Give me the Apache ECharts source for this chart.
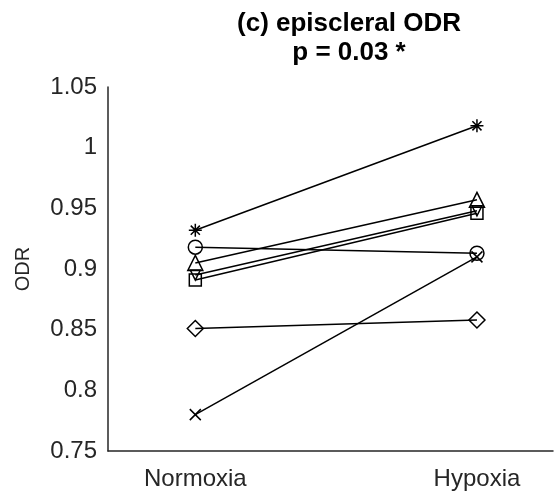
<!DOCTYPE html>
<html><head><meta charset="utf-8">
<script src="https://cdn.jsdelivr.net/npm/echarts@6/dist/echarts.min.js"></script>
<style>html,body{margin:0;padding:0;background:#fff}#c{width:554px;height:495px}</style>
</head><body><div id="c"></div>
<script>
const categories = ['Normoxia', 'Hypoxia'];
const yTicks = [0.75, 0.8, 0.85, 0.9, 0.95, 1, 1.05];
const subjAsterisk = [0.932, 1.018];
const subjCircle = [0.918, 0.913];
const subjTriangle = [0.905, 0.957];
const subjSquare = [0.891, 0.946];
const subjDownTri = [0.895, 0.948];
const subjDiamond = [0.851, 0.858];
const subjCross = [0.780, 0.910];

const sym = {
  asterisk: 'path://M5,0L5,10M0,5L10,5M1.5,1.5L8.5,8.5M8.5,1.5L1.5,8.5',
  cross: 'path://M0,0L10,10M10,0L0,10',
  circle: 'circle', rect: 'rect', triangle: 'triangle', diamond: 'diamond',
  downTri: 'path://M0,0L10,0L5,9Z'
};
const seriesDefs = [
  [subjAsterisk, sym.asterisk, 13],
  [subjCircle, sym.circle, 14],
  [subjTriangle, sym.triangle, 15],
  [subjSquare, sym.rect, 12],
  [subjDownTri, sym.downTri, 10],
  [subjDiamond, sym.diamond, 16],
  [subjCross, sym.cross, 11]
];
const series = seriesDefs.map(([vals, s, size]) => ({
  type: 'line',
  data: vals.map((v, i) => [i + 1, v]),
  symbol: s, symbolSize: size, showAllSymbol: true,
  lineStyle: {color: '#000', width: 1.5},
  itemStyle: {color: 'rgba(0,0,0,0)', borderColor: '#000', borderWidth: 1.5},
  emphasis: {disabled: true},
  z: 3
}));

const font = 'Liberation Sans, Arial';
const chart = echarts.init(document.getElementById('c'));
chart.setOption({
  animation: false,
  title: {
    text: '(c) episcleral ODR\np = 0.03 *',
    left: 344, top: 4, textAlign: 'center',
    textStyle: {fontFamily: font, fontWeight: 'bold', fontSize: 26, color: '#000', lineHeight: 29}
  },
  grid: {left: 108, right: 1, top: 87, bottom: 44, containLabel: false},
  xAxis: {
    type: 'value', min: 0.69, max: 2.27,
    axisLine: {lineStyle: {color: '#262626', width: 1.5}},
    axisTick: {show: false},
    splitLine: {show: false},
    axisLabel: {
      customValues: [1, 2],
      formatter: v => categories[Math.round(v) - 1] || '',
      color: '#262626', fontSize: 24, fontFamily: font, margin: 16
    }
  },
  yAxis: {
    type: 'value', min: 0.75, max: 1.05,
    name: 'ODR', nameLocation: 'middle', nameGap: 75,
    nameTextStyle: {color: '#262626', fontSize: 20, fontFamily: font},
    axisLine: {show: true, lineStyle: {color: '#262626', width: 1.5}},
    axisTick: {show: false},
    splitLine: {show: false},
    axisLabel: {
      customValues: yTicks,
      formatter: v => String(Math.round(v * 100) / 100),
      color: '#262626', fontSize: 24, fontFamily: font, margin: 11
    }
  },
  series
});
</script></body></html>
